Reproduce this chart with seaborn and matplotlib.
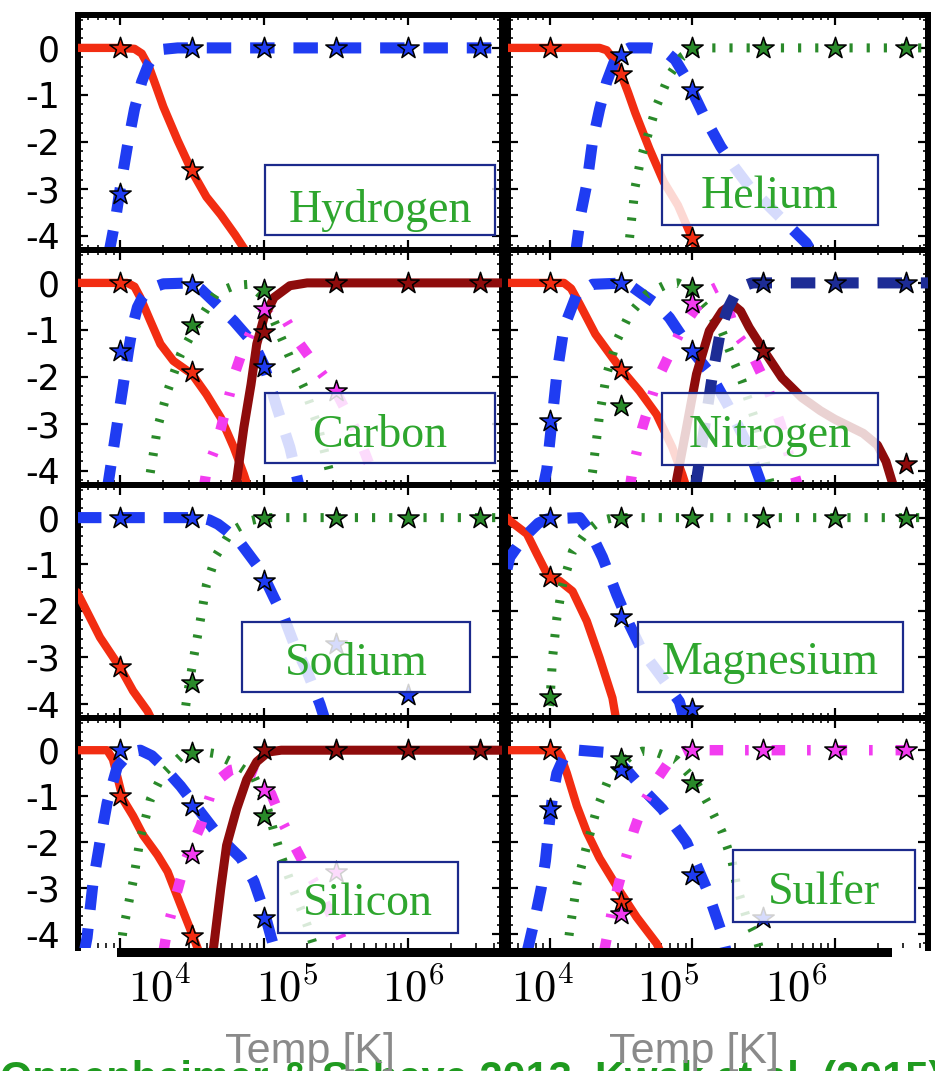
import numpy as np
import matplotlib
matplotlib.use("Agg")
import matplotlib.pyplot as plt
import seaborn as sns
from matplotlib.patches import Rectangle
from matplotlib.ticker import MultipleLocator, LogLocator, NullFormatter

N = np.nan
# ---------------- data (log10 T, log10 ion fraction) ----------------
STAR_LOGT = [4.0, 4.5, 5.0, 5.5, 6.0, 6.5]
YTICKS = [0, -1, -2, -3, -4]
YTICK_LABELS = ["0", "-1", "-2", "-3", "-4"]
XTICK_LABELS = [r"$10^{4}$", r"$10^{5}$", r"$10^{6}$"]
ELEMENTS = ["Hydrogen", "Helium", "Carbon", "Nitrogen", "Sodium", "Magnesium", "Silicon", "Sulfer"]
XLABEL = "Temp [K]"
FOOTER = "Oppenheimer & Schaye 2013, Kwak et al. (2015), Oppenheimer et al. (2016)"

# Hydrogen
H_I_LOGT = [3.70, 4.00, 4.10, 4.15, 4.20, 4.25, 4.30, 4.40, 4.50, 4.60, 4.70, 4.80, 4.90]
H_I_VAL = [0, 0, -0.02, -0.12, -0.40, -0.82, -1.25, -1.97, -2.63, -3.17, -3.55, -3.98, -4.45]
H_II_LOGT = [3.92, 3.97, 4.00, 4.05, 4.10, 4.15, 4.20, 4.25, 4.30, 4.40, 6.70]
H_II_VAL = [-4.4, -3.6, -3.0, -2.1, -1.3, -0.72, -0.33, -0.12, -0.03, 0, 0]
H_I_STAR = [0, -2.6, N, N, N, N]
H_II_STAR = [-3.1, 0, 0, 0, 0, 0]

# Helium
HE_I_LOGT = [3.70, 4.35, 4.40, 4.45, 4.50, 4.55, 4.60, 4.70, 4.80, 4.90, 5.00, 5.05]
HE_I_VAL = [0, 0, -0.05, -0.25, -0.55, -0.95, -1.38, -2.15, -2.85, -3.35, -4.05, -4.45]
HE_II_LOGT = [4.18, 4.22, 4.26, 4.30, 4.35, 4.40, 4.45, 4.50, 4.56, 4.70, 4.80, 4.88, 4.95, 5.00,
              5.10, 5.20, 5.30, 5.40, 5.50, 5.60, 5.70, 5.80, 5.85]
HE_II_VAL = [-4.4, -3.5, -2.9, -2.0, -1.3, -0.72, -0.32, -0.1, 0, 0, -0.05, -0.25, -0.6, -0.92,
             -1.55, -2.1, -2.55, -2.95, -3.25, -3.55, -3.85, -4.15, -4.4]
HE_III_LOGT = [4.545, 4.56, 4.60, 4.64, 4.68, 4.75, 4.84, 4.93, 5.00, 5.10, 6.70]
HE_III_VAL = [-4.4, -4.05, -2.95, -2.35, -1.94, -1.23, -0.58, -0.18, -0.05, 0, 0]
HE_I_STAR = [0, -0.55, -4.05, N, N, N]
HE_II_STAR = [N, -0.15, -0.9, N, N, N]
HE_III_STAR = [N, N, 0, 0, 0, 0]

# Carbon
C_I_LOGT = [3.70, 4.05, 4.10, 4.14, 4.21, 4.28, 4.37, 4.50, 4.60, 4.70, 4.79, 4.86, 4.90]
C_I_VAL = [0, 0, -0.08, -0.31, -0.81, -1.30, -1.66, -1.94, -2.37, -2.87, -3.50, -4.07, -4.45]
C_II_LOGT = [3.91, 3.93, 3.97, 4.00, 4.03, 4.06, 4.09, 4.12, 4.16, 4.21, 4.30, 4.50, 4.56, 4.67,
             4.79, 4.93, 5.00, 5.09, 5.18, 5.25]
C_II_VAL = [-4.4, -4.0, -3.2, -2.6, -2.0, -1.4, -0.88, -0.52, -0.28, -0.12, -0.02, 0, -0.13, -0.45,
            -0.81, -1.30, -1.75, -2.65, -3.50, -4.4]
C_III_LOGT = [4.19, 4.21, 4.26, 4.33, 4.42, 4.56, 4.67, 4.80, 4.90, 5.00, 5.09, 5.18, 5.28, 5.38, 5.48]
C_III_VAL = [-4.4, -4.03, -3.08, -2.30, -1.52, -0.74, -0.21, -0.05, -0.03, -0.31, -0.95, -1.59,
             -2.23, -3.10, -4.3]
C_IV_LOGT = [4.58, 4.60, 4.65, 4.70, 4.75, 4.80, 4.85, 4.90, 4.95, 5.00, 5.05, 5.10, 5.15, 5.25,
             5.37, 5.51, 5.65, 5.80]
C_IV_VAL = [-4.4, -4.0, -3.6, -3.1, -2.5, -1.9, -1.45, -1.1, -0.8, -0.6, -0.5, -0.55, -0.78, -1.3,
            -1.8, -2.37, -3.2, -4.4]
C_V_LOGT = [4.78, 4.81, 4.86, 4.91, 4.95, 5.00, 5.07, 5.18, 5.30, 6.70]
C_V_VAL = [-4.6, -4.2, -3.08, -2.16, -1.30, -0.74, -0.31, -0.06, 0, 0]
C_I_STAR = [0, -1.9, N, N, N, N]
C_II_STAR = [-1.45, -0.05, -1.8, N, N, N]
C_III_STAR = [N, -0.9, -0.15, N, N, N]
C_IV_STAR = [N, N, -0.55, -2.3, N, N]
C_V_STAR = [N, N, -1.05, 0, 0, 0]

# Nitrogen
N_I_LOGT = [3.70, 4.10, 4.15, 4.21, 4.32, 4.44, 4.51, 4.63, 4.75, 4.86, 4.93, 4.97]
N_I_VAL = [0, 0, -0.12, -0.45, -1.09, -1.59, -1.87, -2.30, -2.80, -3.50, -4.07, -4.45]
N_II_LOGT = [3.95, 3.98, 4.02, 4.05, 4.10, 4.19, 4.30, 4.54, 4.65, 4.75, 4.84, 4.98, 5.12, 5.25,
             5.38, 5.50]
N_II_VAL = [-4.4, -3.96, -2.8, -1.94, -0.95, -0.24, -0.03, 0, -0.24, -0.45, -0.74, -1.37, -1.9,
            -2.6, -3.4, -4.4]
N_III_LOGT = [4.28, 4.30, 4.35, 4.40, 4.47, 4.56, 4.68, 4.82, 4.90, 4.98, 5.10, 5.21, 5.30, 5.35,
              5.45, 5.55]
N_III_VAL = [-4.4, -4.03, -2.8, -1.94, -1.23, -0.67, -0.24, -0.03, 0, -0.13, -0.55, -1.04, -1.73,
             -2.09, -3.0, -4.3]
N_IV_LOGT = [4.56, 4.58, 4.65, 4.75, 4.84, 4.93, 5.03, 5.12, 5.18, 5.24, 5.30, 5.42, 5.52, 5.62,
             5.70, 5.75]
N_IV_VAL = [-4.4, -4.0, -3.08, -2.09, -1.52, -0.95, -0.52, -0.17, -0.08, -0.4, -1.04, -1.52, -2.16,
            -3.0, -3.9, -4.4]
N_V_LOGT = [4.87, 4.89, 4.96, 5.03, 5.12, 5.21, 5.28, 5.34, 5.40, 5.52, 5.63, 5.77, 5.90, 6.00,
            6.10, 6.20, 6.30, 6.36, 6.42]
N_V_VAL = [-4.6, -4.2, -3.08, -1.94, -1.02, -0.60, -0.45, -0.60, -0.95, -1.52, -2.02, -2.44, -2.72,
           -2.90, -3.05, -3.20, -3.45, -3.80, -4.4]
N_VI_LOGT = [5.02, 5.08, 5.14, 5.20, 5.25, 5.30, 5.36, 5.42, 6.70]
N_VI_VAL = [-4.4, -3.2, -2.0, -1.0, -0.55, -0.25, -0.07, 0, 0]
N_I_STAR = [0, -1.85, N, N, N, N]
N_II_STAR = [-2.94, 0, -1.45, N, N, N]
N_III_STAR = [N, -2.62, -0.1, N, N, N]
N_IV_STAR = [N, N, -0.42, N, N, N]
N_V_STAR = [N, N, N, -1.45, N, -3.86]
N_VI_STAR = [N, N, N, 0, 0, 0]

# Sodium
NA_I_LOGT = [3.70, 3.75, 3.86, 4.00, 4.09, 4.19, 4.23]
NA_I_VAL = [-1.6, -1.9, -2.57, -3.22, -3.72, -4.15, -4.4]
NA_II_LOGT = [3.70, 4.55, 4.62, 4.68, 4.74, 4.84, 4.98, 5.07, 5.14, 5.21, 5.30, 5.39, 5.43]
NA_II_VAL = [0, 0, -0.05, -0.14, -0.28, -0.56, -1.14, -1.72, -2.15, -2.72, -3.30, -4.01, -4.4]
NA_III_LOGT = [4.44, 4.46, 4.51, 4.56, 4.60, 4.67, 4.77, 4.90, 5.00, 6.70]
NA_III_VAL = [-4.4, -3.95, -3.02, -2.16, -1.44, -0.80, -0.30, -0.07, 0, 0]
NA_I_STAR = [-3.2, N, N, N, N, N]
NA_II_STAR = [0, 0, -1.36, -2.72, -3.8, N]
NA_III_STAR = [N, -3.55, 0, 0, 0, 0]

# Magnesium
MG_I_LOGT = [3.70, 3.72, 3.84, 3.91, 3.98, 4.03, 4.07, 4.16, 4.26, 4.35, 4.44, 4.47]
MG_I_VAL = [0, -0.07, -0.35, -0.78, -1.20, -1.30, -1.36, -1.58, -2.22, -3.01, -3.87, -4.4]
MG_II_LOGT = [3.70, 3.72, 3.80, 3.86, 3.92, 3.98, 4.21, 4.28, 4.37, 4.47, 4.56, 4.65, 4.79, 4.91, 4.95]
MG_II_VAL = [-1.1, -0.85, -0.5, -0.3, -0.12, -0.03, 0, -0.28, -0.85, -1.65, -2.30, -2.87, -3.44,
             -3.95, -4.4]
MG_III_LOGT = [3.98, 4.00, 4.02, 4.05, 4.09, 4.16, 4.26, 4.35, 4.45, 6.70]
MG_III_VAL = [-4.4, -4.0, -3.0, -2.15, -1.44, -0.72, -0.29, -0.07, 0, 0]
MG_I_STAR = [-1.28, N, N, N, N, N]
MG_II_STAR = [0, -2.14, -4.1, N, N, N]
MG_III_STAR = [-3.86, 0, 0, 0, 0, 0]

# Silicon
SI_I_LOGT = [3.70, 3.91, 3.95, 3.98, 4.02, 4.09, 4.16, 4.26, 4.33, 4.42, 4.51, 4.55]
SI_I_VAL = [0, 0, -0.2, -0.57, -1.07, -1.43, -1.85, -2.28, -2.64, -3.36, -4.07, -4.4]
SI_II_LOGT = [3.75, 3.77, 3.81, 3.86, 3.91, 3.98, 4.07, 4.14, 4.22, 4.30, 4.42, 4.56, 4.70, 4.84,
              4.93, 5.00, 5.05, 5.08]
SI_II_VAL = [-4.4, -4.07, -2.92, -1.99, -1.14, -0.36, -0.04, 0, -0.12, -0.36, -0.78, -1.35, -1.92,
             -2.35, -2.85, -3.49, -4.07, -4.4]
SI_III_LOGT = [4.00, 4.02, 4.09, 4.14, 4.21, 4.30, 4.42, 4.55, 4.65, 4.79, 4.93, 5.02, 5.07, 5.12,
               5.20, 5.30, 5.36]
SI_III_VAL = [-4.4, -3.92, -2.85, -1.92, -1.07, -0.50, -0.14, -0.02, -0.07, -0.28, -0.57, -1.21,
              -1.78, -2.30, -3.0, -3.8, -4.4]
SI_IV_LOGT = [4.30, 4.33, 4.39, 4.46, 4.56, 4.63, 4.70, 4.77, 4.85, 4.95, 5.05, 5.13, 5.21, 5.30,
              5.40, 5.50, 5.58]
SI_IV_VAL = [-4.4, -3.85, -3.14, -2.35, -1.64, -0.95, -0.60, -0.43, -0.38, -0.50, -0.95, -1.57,
             -2.07, -2.60, -3.15, -3.80, -4.4]
SI_V_LOGT = [4.63, 4.65, 4.70, 4.74, 4.81, 4.88, 4.95, 5.03, 5.12, 6.70]
SI_V_VAL = [-4.6, -4.28, -3.0, -2.07, -1.28, -0.64, -0.25, -0.04, 0, 0]
SI_I_STAR = [-1.0, -4.03, N, N, N, N]
SI_II_STAR = [0, -1.21, -3.64, N, N, N]
SI_III_STAR = [N, -0.07, -1.43, N, N, N]
SI_IV_STAR = [N, -2.25, -0.86, -2.64, N, N]
SI_V_STAR = [N, N, 0, 0, 0, 0]

# Sulfer
S_I_LOGT = [3.70, 4.05, 4.08, 4.12, 4.19, 4.26, 4.35, 4.49, 4.61, 4.75, 4.78]
S_I_VAL = [0, 0, -0.15, -0.50, -1.21, -1.78, -2.35, -3.06, -3.63, -4.20, -4.4]
S_II_LOGT = [3.84, 3.87, 3.90, 3.94, 3.97, 4.00, 4.02, 4.05, 4.10, 4.15, 4.20, 4.40, 4.47, 4.56,
             4.68, 4.79, 4.96, 5.10, 5.21, 5.24]
S_II_VAL = [-4.4, -4.0, -3.6, -3.0, -2.4, -1.5, -1.0, -0.5, -0.15, -0.03, 0, -0.05, -0.2, -0.5,
            -0.93, -1.28, -2.0, -3.0, -4.0, -4.4]
S_III_LOGT = [4.12, 4.14, 4.19, 4.26, 4.33, 4.42, 4.56, 4.65, 4.75, 4.89, 5.03, 5.12, 5.21, 5.28,
              5.31, 5.38, 5.45, 5.48]
S_III_VAL = [-4.4, -3.92, -2.92, -2.07, -1.28, -0.57, -0.14, -0.02, -0.05, -0.21, -0.71, -1.21,
             -1.78, -2.42, -2.92, -3.64, -4.07, -4.4]
S_IV_LOGT = [4.38, 4.45, 4.52, 4.59, 4.66, 4.76, 4.86, 4.95, 5.00, 6.70]
S_IV_VAL = [-4.4, -3.3, -2.5, -1.75, -1.14, -0.60, -0.15, -0.02, 0, 0]
S_I_STAR = [0, -3.3, N, N, N, N]
S_II_STAR = [-1.28, -0.43, -2.71, -3.64, N, N]
S_III_STAR = [N, -0.2, -0.71, N, N, N]
S_IV_STAR = [N, -3.56, 0, 0, 0, 0]

PANEL_DATA = {
    "Hydrogen": [("I", H_I_LOGT, H_I_VAL, H_I_STAR), ("II", H_II_LOGT, H_II_VAL, H_II_STAR)],
    "Helium": [("I", HE_I_LOGT, HE_I_VAL, HE_I_STAR), ("II", HE_II_LOGT, HE_II_VAL, HE_II_STAR),
               ("III", HE_III_LOGT, HE_III_VAL, HE_III_STAR)],
    "Carbon": [("I", C_I_LOGT, C_I_VAL, C_I_STAR), ("II", C_II_LOGT, C_II_VAL, C_II_STAR),
               ("III", C_III_LOGT, C_III_VAL, C_III_STAR), ("IV", C_IV_LOGT, C_IV_VAL, C_IV_STAR),
               ("V", C_V_LOGT, C_V_VAL, C_V_STAR)],
    "Nitrogen": [("I", N_I_LOGT, N_I_VAL, N_I_STAR), ("II", N_II_LOGT, N_II_VAL, N_II_STAR),
                 ("III", N_III_LOGT, N_III_VAL, N_III_STAR), ("IV", N_IV_LOGT, N_IV_VAL, N_IV_STAR),
                 ("V", N_V_LOGT, N_V_VAL, N_V_STAR), ("VI", N_VI_LOGT, N_VI_VAL, N_VI_STAR)],
    "Sodium": [("I", NA_I_LOGT, NA_I_VAL, NA_I_STAR), ("II", NA_II_LOGT, NA_II_VAL, NA_II_STAR),
               ("III", NA_III_LOGT, NA_III_VAL, NA_III_STAR)],
    "Magnesium": [("I", MG_I_LOGT, MG_I_VAL, MG_I_STAR), ("II", MG_II_LOGT, MG_II_VAL, MG_II_STAR),
                  ("III", MG_III_LOGT, MG_III_VAL, MG_III_STAR)],
    "Silicon": [("I", SI_I_LOGT, SI_I_VAL, SI_I_STAR), ("II", SI_II_LOGT, SI_II_VAL, SI_II_STAR),
                ("III", SI_III_LOGT, SI_III_VAL, SI_III_STAR), ("IV", SI_IV_LOGT, SI_IV_VAL, SI_IV_STAR),
                ("V", SI_V_LOGT, SI_V_VAL, SI_V_STAR)],
    "Sulfer": [("I", S_I_LOGT, S_I_VAL, S_I_STAR), ("II", S_II_LOGT, S_II_VAL, S_II_STAR),
               ("III", S_III_LOGT, S_III_VAL, S_III_STAR), ("IV", S_IV_LOGT, S_IV_VAL, S_IV_STAR)],
}

# ---------------- styles & layout ----------------
STYLE = {
    "I":   dict(color="#f22d12", lw=6.0, dashes=None),
    "II":  dict(color="#1f3cf2", lw=8.0, dashes=(2.2, 1.7)),
    "III": dict(color="#2a8a2a", lw=6.5, dashes=(0.35, 1.55)),
    "IV":  dict(color="#f23cf0", lw=7.5, dashes=(1.3, 2.1, 0.35, 2.2)),
    "V":   dict(color="#8e0c0c", lw=6.5, dashes=None),
    "VI":  dict(color="#1d2c95", lw=8.0, dashes=(2.2, 1.7)),
}

W, H = 935, 1071
COL_X = [(78, 502), (508, 928)]
ROW_Y = [(15, 250), (250, 485), (485, 718), (718, 948)]
# label boxes: (x0, y0, x1, y1, text center x, text baseline y) in pixels
BOXES = {
    "Hydrogen": (265, 165, 495, 235, 380, 222),
    "Helium": (662, 155, 878, 225, 770, 208),
    "Carbon": (265, 393, 495, 463, 380, 447),
    "Nitrogen": (662, 393, 878, 465, 770, 447),
    "Sodium": (242, 622, 470, 692, 356, 675),
    "Magnesium": (638, 622, 903, 692, 770, 674),
    "Silicon": (278, 862, 458, 933, 368, 915),
    "Sulfer": (733, 850, 915, 922, 824, 904),
}
XLAB_POS = [[160, 287, 413], [543, 668, 796]]
TEMP_POS = [310, 694]

sns.set_style("ticks")
plt.rcParams["font.family"] = ["DejaVu Sans"]
plt.rcParams["mathtext.fontset"] = "cm"

fig = plt.figure(figsize=(W / 100, H / 100), dpi=100)
star_t = 10 ** np.array(STAR_LOGT)
PT = 0.72  # points per pixel at 100 dpi

for i, name in enumerate(ELEMENTS):
    r, c = divmod(i, 2)
    x0, x1 = COL_X[c]
    y0, y1 = ROW_Y[r]
    ax = fig.add_axes([x0 / W, 1 - y1 / H, (x1 - x0) / W, (y1 - y0) / H])
    ax.set_xscale("log")
    for ion, logt, vals, stars in PANEL_DATA[name]:
        st = STYLE[ion]
        sns.lineplot(x=10 ** np.array(logt), y=np.array(vals, dtype=float), ax=ax, color=st["color"],
                     linewidth=st["lw"], sort=False, estimator=None, legend=False, zorder=3)
        ln = ax.lines[-1]
        if st["dashes"] is not None:
            ln.set_dashes(st["dashes"])
            ln.set_dash_capstyle("butt")
        else:
            ln.set_solid_capstyle("round")
    for ion, logt, vals, stars in PANEL_DATA[name]:
        st = STYLE[ion]
        sv = np.array(stars, dtype=float)
        m = ~np.isnan(sv)
        if m.any():
            sns.scatterplot(x=star_t[m], y=sv[m], ax=ax, marker="*", s=260, color=st["color"],
                            edgecolor="black", linewidth=1.1, zorder=6, legend=False)
    ax.set_xlim(10 ** 3.707, 10 ** 6.655)
    ax.set_ylim(-4.3, 0.7)
    ax.set_xticks([1e4, 1e5, 1e6])
    ax.xaxis.set_minor_locator(LogLocator(base=10, subs=np.arange(2, 10) * 1.0, numticks=30))
    ax.xaxis.set_minor_formatter(NullFormatter())
    ax.set_xticklabels([])
    ax.set_yticks(YTICKS)
    ax.yaxis.set_minor_locator(MultipleLocator(0.2))
    if c == 0:
        ax.set_yticklabels(YTICK_LABELS)
    else:
        ax.set_yticklabels([])
    ax.tick_params(which="major", direction="in", length=10 * PT, width=2.2 * PT, top=True,
                   right=True, labelsize=25, pad=18 * PT, color="black", labelcolor="black")
    ax.tick_params(which="minor", direction="in", length=5 * PT, width=1.6 * PT, top=True,
                   right=True, color="black")
    ax.set_xlabel("")
    ax.set_ylabel("")
    for sp in ax.spines.values():
        sp.set_linewidth(6 * PT)
        sp.set_color("black")
    if r == 3:
        ax.spines["bottom"].set_visible(False)

    bx0, by0, bx1, by1, tx, ty = BOXES[name]
    fig.add_artist(Rectangle((bx0 / W, 1 - by1 / H), (bx1 - bx0) / W, (by1 - by0) / H,
                             transform=fig.transFigure, facecolor=(1, 1, 1, 0.82),
                             edgecolor="#1c2a8c", linewidth=1.6, zorder=10))
    fig.text(tx / W, 1 - ty / H, name, ha="center", va="baseline", fontsize=33,
             family="Liberation Serif", color="#2ea62e", zorder=11)

# bottom black bar
fig.add_artist(Rectangle((117 / W, 1 - 957 / H), (892 - 117) / W, 9 / H, transform=fig.transFigure,
                         facecolor="black", edgecolor="none", zorder=9))

for c in range(2):
    for lab, px in zip(XTICK_LABELS, XLAB_POS[c]):
        fig.text(px / W, 1 - 1002 / H, lab, ha="center", va="baseline", fontsize=32, color="black")
    fig.text(TEMP_POS[c] / W, 1 - 1063 / H, XLABEL, ha="center", va="baseline", fontsize=31,
             family="Liberation Sans", color="#8a8a8a", zorder=5)

# footer line of the slide, cut off by the bottom edge as in the reference
fig.text(0.0, 1 - 1091 / H, FOOTER, ha="left", va="baseline", fontsize=30, fontweight="bold",
         family="Liberation Sans", color="#1f9a1f", zorder=4)

fig.savefig("out.png", dpi=100)
